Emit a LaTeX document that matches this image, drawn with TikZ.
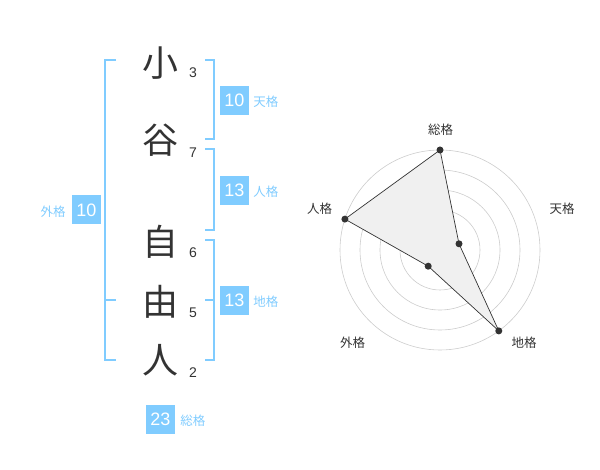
\documentclass[tikz,border=0pt]{standalone}
\usepackage{fontspec}
\setmainfont{Liberation Sans}
\newfontfamily\jpfont{Noto Sans CJK JP}
\usepackage{xcolor}
\definecolor{kakublue}{HTML}{80CCFF}
\definecolor{inkgray}{HTML}{333333}
\usetikzlibrary{positioning}

\begin{document}
\begin{tikzpicture}[x=1pt, y=-1pt,
  kanji/.style={font=\jpfont\fontsize{36}{36}\selectfont, text=inkgray, inner sep=0pt},
  strokes/.style={font=\fontsize{14}{14}\selectfont, text=inkgray, inner sep=0pt},
  valbox/.style={fill=kakublue, text=white, minimum size=29pt, inner sep=0pt, font=\fontsize{18}{18}\selectfont},
  kaku/.style={font=\jpfont\fontsize{12.5}{12.5}\selectfont, text=kakublue, inner sep=0pt},
  bracket/.style={draw=kakublue, line width=2pt},
  ring/.style={draw=black!20, line width=0.6pt},
  axislabel/.style={font=\jpfont\fontsize{12.5}{12.5}\selectfont, text=inkgray, inner sep=0pt},
  dot/.style={circle, fill=inkgray, minimum size=7pt, inner sep=0pt}]
\useasboundingbox (0,0) rectangle (600,470);

% name
\node[kanji] (ko) at (160,63) {小};
\node[kanji] (tani) at (160,140) {谷};
\node[kanji] (ji) at (160,242) {自};
\node[kanji] (yu) at (160,302) {由};
\node[kanji] (hito) at (160,360) {人};

\node[strokes] (s1) at (193,73) {3};
\node[strokes] (s2) at (193,153) {7};
\node[strokes] (s3) at (193,253) {6};
\node[strokes] (s4) at (193,313) {5};
\node[strokes] (s5) at (193,373) {2};

% brackets
\draw[bracket] (116,60) -- (105,60) -- (105,360) -- (116,360);
\draw[bracket] (105,300) -- (116,300);
\draw[bracket] (205,60) -- (214,60) -- (214,139) -- (205,139);
\draw[bracket] (205,149) -- (214,149) -- (214,230) -- (205,230);
\draw[bracket] (205,240) -- (214,240) -- (214,360) -- (205,360);
\draw[bracket] (205,300) -- (214,300);

% values
\node[valbox] (ten) at (234.5,100.5) {10};
\node[valbox] (jin) at (234.5,190.5) {13};
\node[valbox] (chi) at (234.5,300.5) {13};
\node[valbox] (gai) at (86.5,210) {10};
\node[valbox] (sou) at (160.5,419) {23};

\node[kaku, right=4pt of ten.base east, anchor=base west] (tenlabel) {天格};
\node[kaku, right=4pt of jin.base east, anchor=base west] (jinlabel) {人格};
\node[kaku, right=4pt of chi.base east, anchor=base west] (chilabel) {地格};
\node[kaku, left=6pt of gai.base west, anchor=base east] (gailabel) {外格};
\node[kaku, right=5pt of sou.base east, anchor=base west] (soulabel) {総格};

% radar chart
\coordinate (c) at (440,250);
\draw[ring] (c) circle (20);
\draw[ring] (c) circle (40);
\draw[ring] (c) circle (60);
\draw[ring] (c) circle (80);
\draw[ring] (c) circle (100);
\fill[black!20] (c) circle (3);

\coordinate (psou) at (440,150);
\coordinate (pten) at (459.0,243.8);
\coordinate (pchi) at (498.8,330.9);
\coordinate (pgai) at (428.2,266.2);
\coordinate (pjin) at (344.9,219.1);

\filldraw[fill=black!6, draw=inkgray, line width=0.7pt] (psou) -- (pten) -- (pchi) -- (pgai) -- (pjin) -- cycle;
\node[dot] at (psou) {};
\node[dot] at (pten) {};
\node[dot] at (pchi) {};
\node[dot] at (pgai) {};
\node[dot] at (pjin) {};

\node[axislabel] (asou) at (440.5,130) {総格};
\node[axislabel] (aten) at (562,208.5) {天格};
\node[axislabel] (achi) at (524,342.3) {地格};
\node[axislabel] (agai) at (352.5,342.3) {外格};
\node[axislabel] (ajin) at (319.5,209) {人格};
\end{tikzpicture}
\end{document}
